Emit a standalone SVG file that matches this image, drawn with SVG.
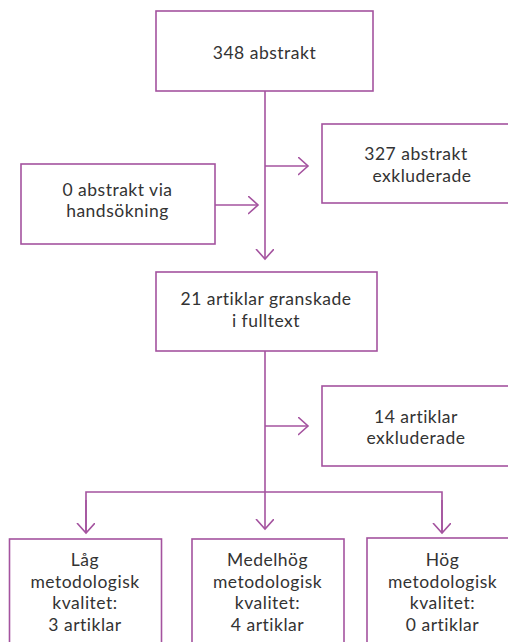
<svg xmlns="http://www.w3.org/2000/svg" width="508" height="642" viewBox="0 0 508 642">
<defs>
<style>
.box{fill:#fff;stroke:#a4539f;stroke-width:1.6}
.ln{fill:none;stroke:#a4539f;stroke-width:1.6}
.t{font-family:Lato,"Open Sans","Liberation Sans",sans-serif;font-size:17.5px;letter-spacing:0.5px;fill:#333;text-anchor:middle}
</style>
<marker id="ah" markerWidth="12" markerHeight="20" refX="10" refY="9" orient="auto" markerUnits="userSpaceOnUse">
<path d="M0,0 L10,9 L0,18" fill="none" stroke="#a4539f" stroke-width="1.6"/>
</marker>
</defs>
<rect width="508" height="642" fill="#fff"/>
<g id="connectors">
<path class="ln" d="M265,91 V259" marker-end="url(#ah)"/>
<path class="ln" d="M265,166 H308" marker-end="url(#ah)"/>
<path class="ln" d="M215,205 H258" marker-end="url(#ah)"/>
<path class="ln" d="M265,351 V492"/>
<path class="ln" d="M265,426 H308" marker-end="url(#ah)"/>
<path class="ln" d="M86,533 V492 H442 V533" />
<path class="ln" d="M86,500 V533" marker-end="url(#ah)"/>
<path class="ln" d="M442,500 V533" marker-end="url(#ah)"/>
<path class="ln" d="M265,492 V529" marker-end="url(#ah)"/>
</g>
<g id="n1">
<rect class="box" x="156" y="11" width="217" height="80"/>
<text class="t" x="264.5" y="59">348 abstrakt</text>
</g>
<g id="n2">
<rect class="box" x="322" y="124" width="200" height="79"/>
<text class="t" x="416" y="160">327 abstrakt</text>
<text class="t" x="422" y="181.5">exkluderade</text>
</g>
<g id="n3">
<rect class="box" x="21" y="164" width="194" height="80"/>
<text class="t" x="117.5" y="195.5">0 abstrakt via</text>
<text class="t" x="117.5" y="217">handsökning</text>
</g>
<g id="n4">
<rect class="box" x="156" y="272" width="221" height="79"/>
<text class="t" x="266" y="305">21 artiklar granskade</text>
<text class="t" x="266" y="326.5">i fulltext</text>
</g>
<g id="n5">
<rect class="box" x="322" y="386" width="200" height="80"/>
<text class="t" x="416" y="422.5">14 artiklar</text>
<text class="t" x="416" y="444">exkluderade</text>
</g>
<g id="n6">
<rect class="box" x="9.5" y="539" width="152" height="120"/>
<text class="t" x="85" y="566">Låg</text>
<text class="t" x="85" y="587.5">metodologisk</text>
<text class="t" x="85" y="609">kvalitet:</text>
<text class="t" x="85" y="630.5">3 artiklar</text>
</g>
<g id="n7">
<rect class="box" x="192" y="539" width="152" height="120"/>
<text class="t" x="267.5" y="566">Medelhög</text>
<text class="t" x="267.5" y="587.5">metodologisk</text>
<text class="t" x="267.5" y="609">kvalitet:</text>
<text class="t" x="267.5" y="630.5">4 artiklar</text>
</g>
<g id="n8">
<rect class="box" x="367" y="538" width="160" height="120"/>
<text class="t" x="442.5" y="566">Hög</text>
<text class="t" x="442.5" y="587.5">metodologisk</text>
<text class="t" x="442.5" y="609">kvalitet:</text>
<text class="t" x="442.5" y="630.5">0 artiklar</text>
</g>
</svg>
